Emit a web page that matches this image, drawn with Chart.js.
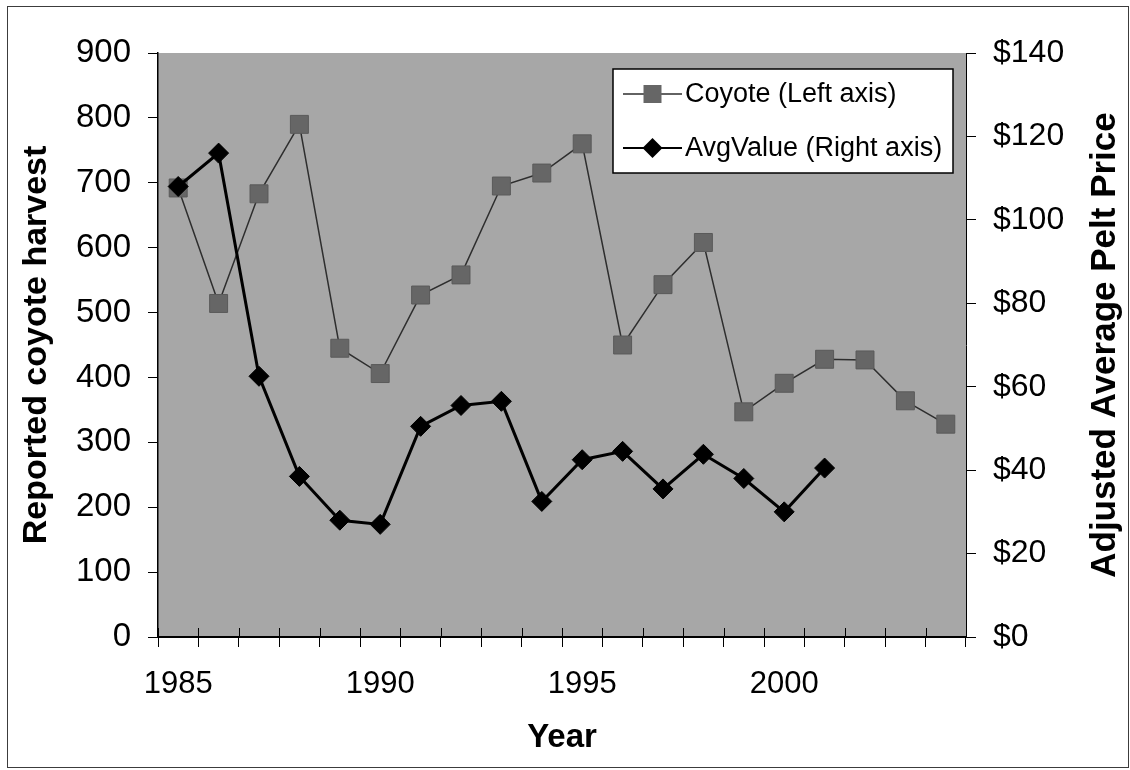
<!DOCTYPE html>
<html>
<head>
<meta charset="utf-8">
<title>Coyote harvest and pelt price</title>
<script src="https://cdn.jsdelivr.net/npm/chart.js@4.4.1/dist/chart.umd.min.js"></script>
<style>
  html, body { margin: 0; padding: 0; background: #ffffff; }
  canvas { display: block; }
</style>
</head>
<body>
<canvas id="chart" width="1130" height="770"></canvas>
<script>
// Harvest years (one category per year)
const years = [1985, 1986, 1987, 1988, 1989, 1990, 1991, 1992, 1993, 1994,
               1995, 1996, 1997, 1998, 1999, 2000, 2001, 2002, 2003, 2004];

// Reported coyote harvest (left axis)
const coyoteHarvest = [692, 514, 683, 790, 445, 406, 527, 558, 695, 715,
                       760, 450, 543, 608, 347, 391, 428, 427, 364, 328];

// Adjusted average pelt price in dollars (right axis); no price after 2001
const avgPeltValue = [108, 116, 62.5, 38.5, 28, 27, 50.5, 55.5, 56.5, 32.5,
                      42.5, 44.5, 35.5, 43.8, 38, 30, 40.5, null, null, null];

// Years that carry a label on the horizontal axis
const labeledYears = [1985, 1990, 1995, 2000];

// Left and right axis tick values
const harvestTicks = [0, 100, 200, 300, 400, 500, 600, 700, 800, 900];
const priceTicks = [0, 20, 40, 60, 80, 100, 120, 140];

const seriesNames = ['Coyote (Left axis)', 'AvgValue (Right axis)'];
const axisTitles = { x: 'Year', left: 'Reported coyote harvest', right: 'Adjusted Average Pelt Price' };

const FONT = "'Liberation Sans', Arial, Helvetica, sans-serif";
const PLOT_FILL = '#a7a7a7';

// Canvas background, outer frame and grey plot area
const backdrop = {
  id: 'backdrop',
  beforeDraw(chart) {
    const { ctx, chartArea: a } = chart;
    ctx.save();
    ctx.fillStyle = '#ffffff';
    ctx.fillRect(0, 0, chart.width, chart.height);
    ctx.strokeStyle = '#3c3c3c';
    ctx.lineWidth = 1;
    ctx.strokeRect(7.5, 6.5, chart.width - 9, chart.height - 9);
    ctx.fillStyle = PLOT_FILL;
    ctx.fillRect(a.left, a.top, a.right - a.left, a.bottom - a.top);
    ctx.restore();
  }
};

// Category tick marks also reach a little way into the plot area
const innerTicks = {
  id: 'innerTicks',
  afterDraw(chart) {
    const { ctx, chartArea: a } = chart;
    const xs = chart.scales.x;
    const n = xs.getLabels().length;
    ctx.save();
    ctx.strokeStyle = '#000';
    ctx.lineWidth = 1;
    ctx.beginPath();
    for (let i = 0; i <= n; i++) {
      const px = Math.round(xs.left + i * (xs.right - xs.left) / n) + 0.5;
      ctx.moveTo(px, a.bottom);
      ctx.lineTo(px, a.bottom - 9);
    }
    ctx.stroke();
    ctx.restore();
  }
};

// Right-hand axis title, read bottom to top like the left one
const rightTitle = {
  id: 'rightTitle',
  afterDraw(chart) {
    const { ctx } = chart;
    const s = chart.scales.y1;
    ctx.save();
    ctx.translate(s.right - 25, (s.top + s.bottom) / 2);
    ctx.rotate(-Math.PI / 2);
    ctx.font = 'bold 35px ' + FONT;
    ctx.fillStyle = '#000';
    ctx.textAlign = 'center';
    ctx.textBaseline = 'middle';
    ctx.fillText(axisTitles.right, 0, 0);
    ctx.restore();
  }
};

// Boxed legend in the upper right corner of the plot
const boxLegend = {
  id: 'boxLegend',
  afterDraw(chart) {
    const { ctx, chartArea: a } = chart;
    const w = 340, h = 104;
    const x0 = a.right - 13 - w, y0 = a.top + 16;
    ctx.save();
    ctx.fillStyle = '#ffffff';
    ctx.fillRect(x0, y0, w, h);
    ctx.strokeStyle = '#000';
    ctx.lineWidth = 1.5;
    ctx.strokeRect(x0, y0, w, h);
    ctx.font = '27px ' + FONT;
    ctx.textBaseline = 'middle';
    ctx.textAlign = 'left';
    chart.data.datasets.forEach((ds, i) => {
      const cy = y0 + 25 + i * 54;
      const lx0 = x0 + 10, lx1 = x0 + 69, mx = (lx0 + lx1) / 2;
      ctx.strokeStyle = ds.borderColor;
      ctx.lineWidth = i === 0 ? 1.5 : 2;
      ctx.beginPath();
      ctx.moveTo(lx0, cy);
      ctx.lineTo(lx1, cy);
      ctx.stroke();
      ctx.fillStyle = ds.pointBackgroundColor;
      ctx.beginPath();
      if (ds.pointStyle === 'rect') {
        ctx.rect(mx - 9, cy - 9, 18, 18);
      } else {
        ctx.moveTo(mx - 10, cy);
        ctx.lineTo(mx, cy - 10);
        ctx.lineTo(mx + 10, cy);
        ctx.lineTo(mx, cy + 10);
        ctx.closePath();
      }
      ctx.fill();
      ctx.fillStyle = '#000';
      ctx.fillText(ds.label, x0 + 72, cy + 1);
    });
    ctx.restore();
  }
};

new Chart(document.getElementById('chart'), {
  type: 'line',
  data: {
    labels: years,
    datasets: [
      {
        label: seriesNames[0],
        data: coyoteHarvest,
        yAxisID: 'y',
        order: 1,
        borderColor: '#2e2e2e',
        borderWidth: 1.5,
        pointStyle: 'rect',
        pointRadius: 12.7,
        pointBackgroundColor: '#666666',
        pointBorderColor: '#5a5a5a',
        pointBorderWidth: 1,
        tension: 0
      },
      {
        label: seriesNames[1],
        data: avgPeltValue,
        yAxisID: 'y1',
        order: 0,
        borderColor: '#000000',
        borderWidth: 3,
        pointStyle: 'rectRot',
        pointRadius: 10,
        pointBackgroundColor: '#000000',
        pointBorderColor: '#000000',
        pointBorderWidth: 1,
        tension: 0,
        spanGaps: false
      }
    ]
  },
  options: {
    responsive: false,
    animation: false,
    events: [],
    layout: { padding: { top: 53, left: 0, right: 0, bottom: 0 } },
    plugins: { legend: { display: false }, tooltip: { enabled: false } },
    scales: {
      x: {
        type: 'category',
        offset: true,
        grid: { offset: true, drawOnChartArea: false, drawTicks: true, tickLength: 10, color: '#000', lineWidth: 1 },
        border: { display: true, color: '#000', width: 2 },
        ticks: {
          autoSkip: false, maxRotation: 0, minRotation: 0, padding: 19,
          color: '#000', font: { family: FONT, size: 31 },
          callback(value, index) {
            const yr = years[index];
            return labeledYears.includes(yr) ? String(yr) : '';
          }
        },
        title: { display: true, text: axisTitles.x, color: '#000',
                 font: { family: FONT, size: 33, weight: 'bold' }, padding: { top: 0, bottom: 12 } },
        afterFit(scale) { scale.height = 133; }
      },
      y: {
        position: 'left',
        min: harvestTicks[0],
        max: harvestTicks[harvestTicks.length - 1],
        grid: { drawOnChartArea: false, drawTicks: true, tickLength: 10, color: '#000', lineWidth: 1 },
        border: { display: true, color: '#000', width: 1.5 },
        ticks: {
          stepSize: harvestTicks[1] - harvestTicks[0], padding: 17, color: '#000',
          font: { family: FONT, size: 33 }
        },
        title: { display: true, text: axisTitles.left, color: '#000',
                 font: { family: FONT, size: 34, weight: 'bold' }, padding: { top: 16, bottom: 0 } },
        afterFit(scale) { scale.width = 158; }
      },
      y1: {
        position: 'right',
        min: priceTicks[0],
        max: priceTicks[priceTicks.length - 1],
        grid: { drawOnChartArea: false, drawTicks: true, tickLength: 10, color: '#000', lineWidth: 1 },
        border: { display: true, color: '#000', width: 1 },
        ticks: {
          stepSize: priceTicks[1] - priceTicks[0], padding: 17, color: '#000',
          font: { family: FONT, size: 32 },
          callback(v) { return '$' + v; }
        },
        afterFit(scale) { scale.width = 164; }
      }
    }
  },
  plugins: [backdrop, innerTicks, rightTitle, boxLegend]
});
</script>
</body>
</html>
